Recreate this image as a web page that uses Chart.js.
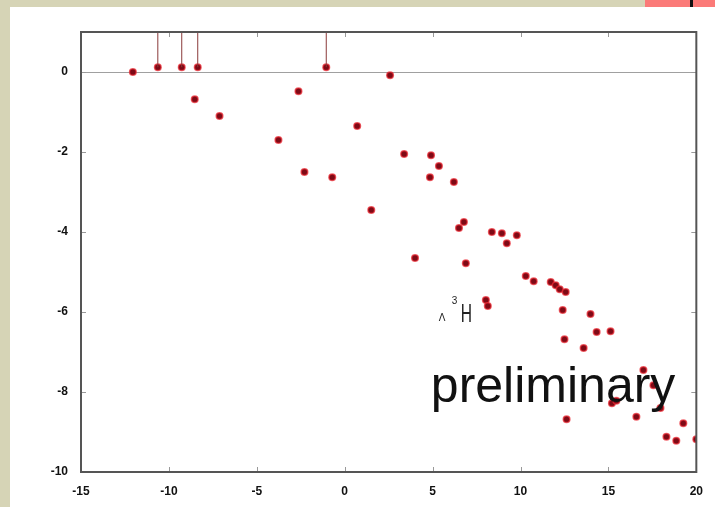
<!DOCTYPE html>
<html>
<head>
<meta charset="utf-8">
<script src="https://cdn.jsdelivr.net/npm/chart.js@4.4.0/dist/chart.umd.min.js"></script>
<style>
  html, body { margin: 0; padding: 0; }
  body { width: 715px; height: 507px; background: #d6d4b6; position: relative; overflow: hidden; }
  #panel { position: absolute; left: 10px; top: 7px; width: 705px; height: 500px; background: #fff; }
  #tab { position: absolute; left: 645px; top: 0; width: 70px; height: 7px; background: #fb7a78; }
  #tab i { position: absolute; left: 45px; top: 0; width: 3px; height: 7px; background: #111; }
  #wrap { position: absolute; left: 0; top: 0; width: 715px; height: 507px; }
</style>
</head>
<body>
<div id="panel"></div>
<div id="tab"><i></i></div>
<div id="wrap"><canvas id="chart" width="715" height="507"></canvas></div>
<script>
// measured points
const detX = [-12.05, 2.58, -8.53, -7.12, -2.63, -3.77, -2.29, -0.71, 0.71, 1.51,
  3.38, 4.91, 5.36, 4.85, 6.21, 6.78, 6.5, 8.37, 8.94, 9.79,
  9.22, 4.0, 6.89, 10.3, 10.75, 11.72, 12.0, 12.23, 12.57, 8.03,
  8.14, 12.4, 13.98, 14.33, 15.12, 12.5, 13.59, 16.99, 15.2, 15.45,
  17.56, 17.96, 12.62, 16.59, 19.26, 18.3, 18.86, 20.0];
const detY = [0.0, -0.08, -0.68, -1.1, -0.48, -1.7, -2.5, -2.63, -1.35, -3.45,
  -2.05, -2.08, -2.35, -2.63, -2.75, -3.75, -3.9, -4.0, -4.03, -4.08,
  -4.28, -4.65, -4.78, -5.1, -5.23, -5.25, -5.33, -5.43, -5.5, -5.7,
  -5.85, -5.95, -6.05, -6.5, -6.48, -6.68, -6.9, -7.45, -8.28, -8.22,
  -7.83, -8.4, -8.68, -8.62, -8.78, -9.12, -9.22, -9.18];

// upper limits (drawn with a line up to the top of the frame)
const limX = [-10.63, -9.27, -8.36, -1.05];
const limY = [0.12, 0.12, 0.12, 0.12];

const xTicks = [-15, -10, -5, 0, 5, 10, 15, 20];
const yTicks = [0, -2, -4, -6, -8, -10];
const xMin = -15, xMax = 20, yMin = -10, yMax = 1;

const detPoints = detX.map((x, i) => ({ x: x, y: detY[i] }));
const limPoints = limX.map((x, i) => ({ x: x, y: limY[i] }));

// vertical segments for the upper limits, separated by gaps
const limLines = [];
limX.forEach((x, i) => {
  limLines.push({ x: x, y: limY[i] });
  limLines.push({ x: x, y: yMax });
  limLines.push({ x: x, y: null });
});

const dotStyle = {
  pointRadius: 3.3,
  pointBackgroundColor: "#7e0a16",
  pointBorderColor: "rgba(235,40,50,0.7)",
  pointBorderWidth: 1.5,
  showLine: false
};

// frame, inward ticks and the text labels
const framePlugin = {
  id: "frame",
  afterDatasetsDraw(chart) {
    const ctx = chart.ctx;
    const a = chart.chartArea;
    const xs = chart.scales.x, ys = chart.scales.y;
    ctx.save();
    ctx.strokeStyle = "#999";
    ctx.lineWidth = 1;
    xTicks.forEach(v => {
      const px = Math.round(xs.getPixelForValue(v)) + 0.5;
      ctx.beginPath();
      ctx.moveTo(px, a.bottom); ctx.lineTo(px, a.bottom - 5);
      ctx.moveTo(px, a.top); ctx.lineTo(px, a.top + 5);
      ctx.stroke();
    });
    yTicks.forEach(v => {
      const py = Math.round(ys.getPixelForValue(v)) + 0.5;
      ctx.beginPath();
      ctx.moveTo(a.left, py); ctx.lineTo(a.left + 5, py);
      ctx.moveTo(a.right, py); ctx.lineTo(a.right - 5, py);
      ctx.stroke();
    });
    ctx.strokeStyle = "#555";
    ctx.lineWidth = 2;
    ctx.strokeRect(a.left, a.top, a.right - a.left, a.bottom - a.top);

    // hypertriton label
    ctx.fillStyle = "#222";
    ctx.textBaseline = "alphabetic";
    const hx = xs.getPixelForValue(6.6), hy = ys.getPixelForValue(-6.25);
    ctx.font = "10px 'Liberation Sans', Arial, sans-serif";
    ctx.fillText("\u039b", hx - 22, hy - 1);
    ctx.fillText("3", hx - 9, hy - 18);
    ctx.save();
    ctx.translate(hx, hy);
    ctx.scale(0.6, 1);
    ctx.font = "26px 'Liberation Sans', Arial, sans-serif";
    ctx.fillText("H", 0, 0);
    ctx.restore();

    // preliminary
    ctx.fillStyle = "#111";
    ctx.font = "50px 'Liberation Sans', Arial, sans-serif";
    ctx.fillText("preliminary", xs.getPixelForValue(4.9), ys.getPixelForValue(-8.25));
    ctx.restore();
  }
};

new Chart(document.getElementById("chart"), {
  type: "scatter",
  data: {
    datasets: [
      {
        type: "line",
        data: limLines,
        borderColor: "#8a3a3a",
        borderWidth: 1,
        pointRadius: 0,
        spanGaps: false,
        fill: false
      },
      Object.assign({ data: limPoints }, dotStyle),
      Object.assign({ data: detPoints }, dotStyle)
    ]
  },
  options: {
    responsive: false,
    animation: false,
    layout: { padding: { left: 0, top: 32, right: 17, bottom: 0 } },
    plugins: { legend: { display: false }, tooltip: { enabled: false } },
    scales: {
      x: {
        type: "linear",
        min: xMin,
        max: xMax,
        afterBuildTicks: s => { s.ticks = xTicks.map(v => ({ value: v })); },
        afterFit: s => { s.height = 35; },
        grid: { display: false, drawTicks: false },
        border: { display: false },
        ticks: {
          padding: 12,
          color: "#111",
          font: { family: "'Liberation Sans', Arial, sans-serif", size: 12, weight: "bold" }
        }
      },
      y: {
        type: "linear",
        min: yMin,
        max: yMax,
        afterBuildTicks: s => { s.ticks = yTicks.map(v => ({ value: v })); },
        afterFit: s => { s.width = 81; },
        grid: {
          drawTicks: false,
          color: ctx => (ctx.tick && ctx.tick.value === 0 ? "#a0a0a0" : "rgba(0,0,0,0)"),
          lineWidth: 1
        },
        border: { display: false },
        ticks: {
          padding: 13,
          color: "#111",
          font: { family: "'Liberation Sans', Arial, sans-serif", size: 12, weight: "bold" }
        }
      }
    }
  },
  plugins: [framePlugin]
});
</script>
</body>
</html>
